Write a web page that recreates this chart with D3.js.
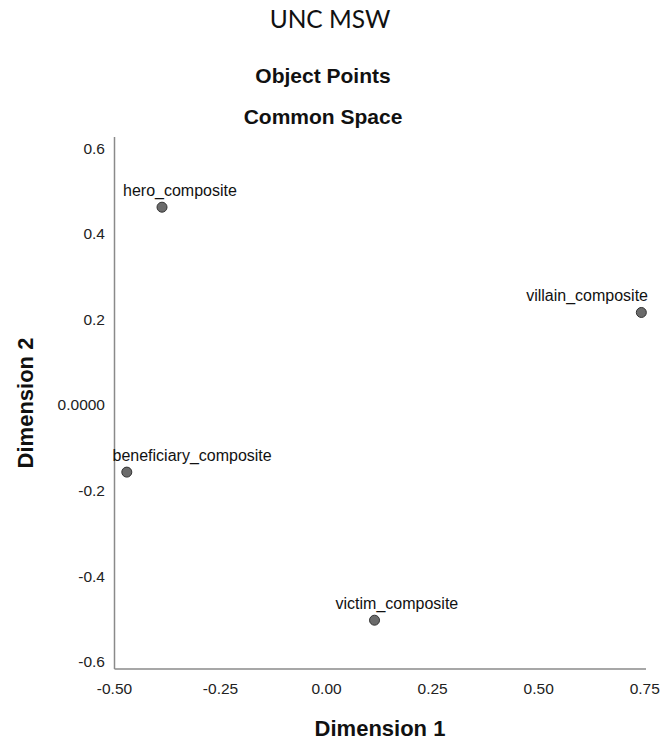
<!DOCTYPE html>
<html><head><meta charset="utf-8">
<script src="https://cdn.jsdelivr.net/npm/d3@7"></script>
<style>body{margin:0;background:#fff;} svg{display:block;}</style>
</head><body>
<svg id="c" width="663" height="747"></svg>
<script>
const names = ["hero_composite","villain_composite","beneficiary_composite","victim_composite"];
const dim1 = [-0.388, 0.742, -0.471, 0.113];
const dim2 = [0.462, 0.216, -0.157, -0.503];
const xTicks = [-0.5,-0.25,0,0.25,0.5,0.75];
const xTickLabels = ["-0.50","-0.25","0.00","0.25","0.50","0.75"];
const yTicks = [0.6,0.4,0.2,0,-0.2,-0.4,-0.6];
const yTickLabels = ["0.6","0.4","0.2","0.0000","-0.2","-0.4","-0.6"];

const svg = d3.select("#c");
const x = d3.scaleLinear().domain([-0.5, 0.753]).range([114.5, 646]);
const y = d3.scaleLinear().domain([-0.617, 0.626]).range([669, 137]);
const F = "'Liberation Sans', Arial, sans-serif";

svg.append("text").attr("x",330).attr("y",28).attr("text-anchor","middle")
  .attr("font-family","Lato, 'Open Sans', sans-serif").attr("font-size",24.5).attr("fill","#111").text("UNC MSW");
svg.append("text").attr("x",323).attr("y",83).attr("text-anchor","middle")
  .attr("font-family",F).attr("font-weight","bold").attr("font-size",21).attr("fill","#111").text("Object Points");
svg.append("text").attr("x",323).attr("y",124).attr("text-anchor","middle")
  .attr("font-family",F).attr("font-weight","bold").attr("font-size",21).attr("fill","#111").text("Common Space");

// axes lines
const [x0,x1] = x.range(), [yb,yt] = y.range();
svg.append("line").attr("x1",x0).attr("x2",x0).attr("y1",yt).attr("y2",yb).attr("stroke","#8a8a8a").attr("stroke-width",1.5);
svg.append("line").attr("x1",x0).attr("x2",x1).attr("y1",yb).attr("y2",yb).attr("stroke","#8a8a8a").attr("stroke-width",1.5);

// tick labels
svg.append("g").selectAll("text").data(yTicks).join("text")
  .attr("x",105).attr("y",d=>y(d)+5.5).attr("text-anchor","end")
  .attr("font-family",F).attr("font-size",15.5).attr("fill","#222")
  .text((d,i)=>yTickLabels[i]);
svg.append("g").selectAll("text").data(xTicks).join("text")
  .attr("x",d=>x(d)).attr("y",694).attr("text-anchor","middle")
  .attr("font-family",F).attr("font-size",15.5).attr("fill","#222")
  .text((d,i)=>xTickLabels[i]);

// axis titles
svg.append("text").attr("x",380).attr("y",736).attr("text-anchor","middle")
  .attr("font-family",F).attr("font-weight","bold").attr("font-size",22).attr("fill","#111").text("Dimension 1");
svg.append("text").attr("transform","translate(33,403) rotate(-90)").attr("text-anchor","middle")
  .attr("font-family",F).attr("font-weight","bold").attr("font-size",22).attr("fill","#111").text("Dimension 2");

// points
const pts = names.map((n,i)=>({n, a:dim1[i], b:dim2[i]}));
const g = svg.append("g");
g.selectAll("circle").data(pts).join("circle")
  .attr("cx",d=>x(d.a)).attr("cy",d=>y(d.b)).attr("r",5)
  .attr("fill","#6b6b6b").attr("stroke","#333").attr("stroke-width",1);
g.selectAll("text").data(pts).join("text")
  .attr("y",d=>y(d.b)-11)
  .attr("font-family",F).attr("font-size",16).attr("fill","#111")
  .text(d=>d.n)
  .each(function(d){
    const w = this.getComputedTextLength();
    let sx = x(d.a) - 39;
    if (sx < x0 - 2) sx = x0 - 2;
    if (sx + w > x1 + 2) sx = x1 + 2 - w;
    d3.select(this).attr("x", sx);
  });
</script>
</body></html>
